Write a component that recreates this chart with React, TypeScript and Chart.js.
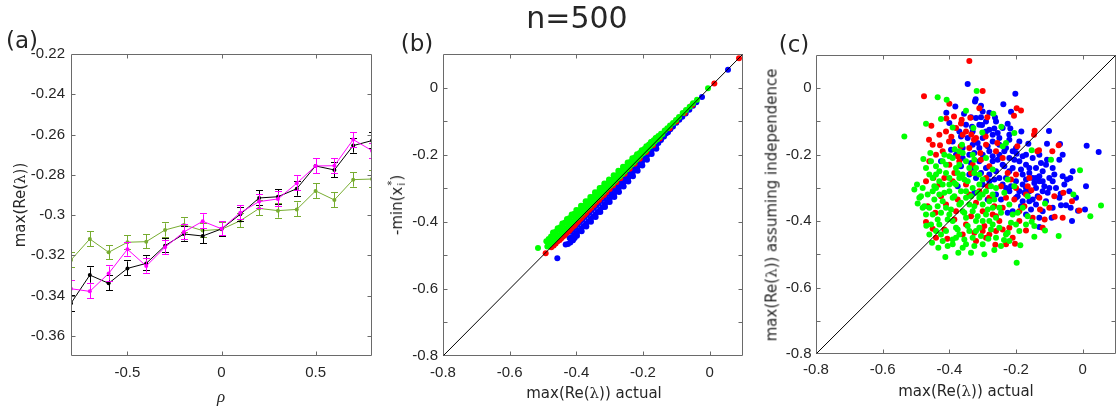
import React, { useEffect, useRef } from "react";
import { Chart, registerables } from "chart.js";

Chart.register(...registerables);

// ---------------- data ----------------
const RHO = [-0.8, -0.7, -0.6, -0.5, -0.4, -0.3, -0.2, -0.1, 0, 0.1, 0.2, 0.3, 0.4, 0.5, 0.6, 0.7, 0.8];
const A_BLACK = [-0.3438, -0.3298, -0.3339, -0.3265, -0.324, -0.3152, -0.3094, -0.3104, -0.3069, -0.2996, -0.2915, -0.2909, -0.2869, -0.2756, -0.2776, -0.2655, -0.263];
const A_BLACK_ERR = [0.0038, 0.0038, 0.0035, 0.0035, 0.0035, 0.0032, 0.0033, 0.0035, 0.0033, 0.0033, 0.0035, 0.0035, 0.0035, 0.0035, 0.0035, 0.0035, 0.0038];
const A_MAGENTA = [-0.3366, -0.3379, -0.329, -0.317, -0.3253, -0.316, -0.3084, -0.3031, -0.3068, -0.2988, -0.2933, -0.292, -0.2842, -0.2756, -0.2755, -0.2625, -0.268];
const A_MAGENTA_ERR = [0.0038, 0.0035, 0.0035, 0.0032, 0.0033, 0.0033, 0.0033, 0.0035, 0.0033, 0.0033, 0.0033, 0.0033, 0.0035, 0.0035, 0.0035, 0.0035, 0.0035];
const A_GREEN = [-0.3223, -0.3119, -0.3185, -0.3135, -0.3132, -0.3074, -0.3049, -0.3077, -0.3071, -0.3028, -0.2967, -0.2978, -0.2972, -0.288, -0.2925, -0.2824, -0.2821];
const A_GREEN_ERR = [0.0035, 0.0035, 0.0033, 0.0033, 0.0033, 0.0033, 0.0033, 0.0033, 0.0033, 0.0033, 0.0035, 0.0035, 0.0035, 0.0035, 0.0035, 0.0035, 0.0038];

const A_X_TICKS = [-0.5, 0, 0.5];
const A_Y_TICKS = [-0.36, -0.34, -0.32, -0.3, -0.28, -0.26, -0.24, -0.22];
const BC_X_TICKS = [-0.8, -0.6, -0.4, -0.2, 0];
const BC_Y_TICKS = [-0.8, -0.7, -0.6, -0.5, -0.4, -0.3, -0.2, -0.1, 0];
const BC_Y_LABELS = [-0.8, -0.6, -0.4, -0.2, 0];
const DIAG = [-0.8, 0.1];

const B_GREEN: number[][] = [
  [-0.515, -0.478],
  [-0.49, -0.458], [-0.487, -0.474], [-0.483, -0.451], [-0.48, -0.467], [-0.476, -0.444], [-0.473, -0.46],
  [-0.469, -0.437], [-0.466, -0.454], [-0.462, -0.43], [-0.459, -0.447], [-0.455, -0.423], [-0.452, -0.44],
  [-0.448, -0.416], [-0.445, -0.433], [-0.441, -0.409], [-0.438, -0.426], [-0.434, -0.402], [-0.431, -0.419],
  [-0.427, -0.395], [-0.424, -0.412], [-0.42, -0.389], [-0.417, -0.405], [-0.413, -0.382], [-0.41, -0.399],
  [-0.406, -0.376], [-0.403, -0.392], [-0.399, -0.372], [-0.396, -0.387], [-0.392, -0.366], [-0.389, -0.38],
  [-0.385, -0.359], [-0.382, -0.373], [-0.378, -0.352], [-0.375, -0.366], [-0.371, -0.346], [-0.368, -0.359],
  [-0.364, -0.339], [-0.361, -0.352], [-0.357, -0.333], [-0.354, -0.345], [-0.35, -0.326], [-0.347, -0.338],
  [-0.343, -0.319], [-0.34, -0.331], [-0.336, -0.312], [-0.333, -0.325], [-0.329, -0.305], [-0.326, -0.318],
  [-0.322, -0.298], [-0.319, -0.311], [-0.315, -0.292], [-0.312, -0.304], [-0.308, -0.286], [-0.305, -0.297],
  [-0.301, -0.281], [-0.298, -0.291], [-0.294, -0.275], [-0.291, -0.285], [-0.287, -0.268], [-0.284, -0.278],
  [-0.28, -0.262], [-0.277, -0.271], [-0.273, -0.255], [-0.27, -0.265], [-0.266, -0.249], [-0.263, -0.258],
  [-0.259, -0.242], [-0.256, -0.251], [-0.252, -0.235], [-0.249, -0.244], [-0.245, -0.229], [-0.242, -0.237],
  [-0.238, -0.222], [-0.235, -0.23], [-0.231, -0.215], [-0.228, -0.223], [-0.224, -0.208], [-0.221, -0.216],
  [-0.217, -0.202], [-0.214, -0.209], [-0.21, -0.195], [-0.207, -0.202], [-0.203, -0.189], [-0.2, -0.196],
  [-0.196, -0.183], [-0.193, -0.189], [-0.189, -0.177], [-0.186, -0.182], [-0.182, -0.17], [-0.179, -0.175],
  [-0.175, -0.163], [-0.172, -0.168], [-0.168, -0.157], [-0.165, -0.161], [-0.161, -0.151], [-0.158, -0.155],
  [-0.154, -0.144], [-0.15, -0.147], [-0.146, -0.138], [-0.142, -0.139],
  [-0.135, -0.128], [-0.127, -0.121], [-0.119, -0.113], [-0.11, -0.106], [-0.101, -0.097], [-0.092, -0.088],
  [-0.081, -0.076], [-0.071, -0.067], [-0.06, -0.057], [-0.05, -0.047], [-0.038, -0.036], [-0.005, -0.002],
  [-0.47, -0.432], [-0.456, -0.419], [-0.442, -0.405], [-0.428, -0.392], [-0.414, -0.378], [-0.4, -0.365],
  [-0.386, -0.352], [-0.372, -0.339], [-0.358, -0.326], [-0.344, -0.312], [-0.33, -0.299], [-0.316, -0.286],
  [-0.302, -0.274], [-0.288, -0.261], [-0.274, -0.248], [-0.26, -0.236], [-0.246, -0.223], [-0.232, -0.211],
  [-0.218, -0.199], [-0.204, -0.187], [-0.19, -0.175], [-0.176, -0.162], [-0.162, -0.15],
];

const B_BLUE: number[][] = [
  [-0.457, -0.509],
  [-0.432, -0.468], [-0.425, -0.466], [-0.418, -0.462], [-0.41, -0.455], [-0.405, -0.448], [-0.415, -0.452],
  [-0.42, -0.448], [-0.417, -0.43], [-0.413, -0.446], [-0.41, -0.424], [-0.406, -0.44], [-0.403, -0.416],
  [-0.399, -0.434], [-0.396, -0.408], [-0.392, -0.427], [-0.389, -0.401], [-0.385, -0.42], [-0.382, -0.393],
  [-0.378, -0.413], [-0.375, -0.386], [-0.371, -0.406], [-0.368, -0.379], [-0.364, -0.399], [-0.361, -0.372],
  [-0.357, -0.392], [-0.354, -0.365], [-0.35, -0.385], [-0.347, -0.358], [-0.343, -0.378], [-0.34, -0.351],
  [-0.336, -0.371], [-0.333, -0.344], [-0.329, -0.364], [-0.326, -0.337], [-0.322, -0.357], [-0.319, -0.33],
  [-0.315, -0.349], [-0.312, -0.323], [-0.308, -0.341], [-0.305, -0.316], [-0.301, -0.333], [-0.298, -0.308],
  [-0.294, -0.325], [-0.291, -0.3], [-0.287, -0.317], [-0.284, -0.293], [-0.28, -0.309], [-0.277, -0.285],
  [-0.273, -0.301], [-0.27, -0.278], [-0.266, -0.293], [-0.263, -0.27], [-0.259, -0.285], [-0.256, -0.263],
  [-0.252, -0.278], [-0.249, -0.256], [-0.245, -0.27], [-0.242, -0.248], [-0.238, -0.262], [-0.235, -0.241],
  [-0.231, -0.254], [-0.228, -0.234], [-0.224, -0.246], [-0.221, -0.226], [-0.217, -0.238], [-0.214, -0.219],
  [-0.21, -0.23], [-0.207, -0.212], [-0.203, -0.222], [-0.2, -0.205], [-0.196, -0.213], [-0.193, -0.198],
  [-0.189, -0.205], [-0.186, -0.191], [-0.182, -0.197], [-0.179, -0.184], [-0.175, -0.189], [-0.172, -0.177],
  [-0.168, -0.181], [-0.165, -0.17], [-0.161, -0.173], [-0.158, -0.162], [-0.154, -0.165], [-0.15, -0.155],
  [-0.146, -0.156], [-0.142, -0.147], [-0.137, -0.146], [-0.131, -0.137], [-0.125, -0.133], [-0.118, -0.124],
  [-0.11, -0.116], [-0.1, -0.105], [-0.091, -0.096], [-0.082, -0.087], [-0.072, -0.077], [-0.061, -0.066],
  [-0.05, -0.054], [-0.04, -0.044], [-0.023, -0.028], [0.055, 0.053],
  [-0.412, -0.455], [-0.398, -0.442], [-0.384, -0.428], [-0.37, -0.414], [-0.356, -0.4], [-0.342, -0.386],
  [-0.328, -0.371], [-0.314, -0.356], [-0.3, -0.341], [-0.286, -0.326], [-0.272, -0.311], [-0.258, -0.295],
  [-0.244, -0.28], [-0.23, -0.264], [-0.216, -0.248], [-0.202, -0.232], [-0.188, -0.215], [-0.174, -0.198],
  [-0.16, -0.182],
];

const B_RED: number[][] = [
  [-0.492, -0.494], [-0.475, -0.476], [-0.468, -0.471], [-0.462, -0.465], [-0.456, -0.458], [-0.45, -0.454],
  [-0.445, -0.449], [-0.44, -0.444], [-0.435, -0.44], [-0.43, -0.434], [-0.425, -0.43], [-0.42, -0.425],
  [-0.415, -0.419], [-0.41, -0.414], [-0.405, -0.41], [-0.4, -0.404], [-0.395, -0.399], [-0.39, -0.393],
  [-0.385, -0.389], [-0.38, -0.383], [-0.375, -0.378], [-0.37, -0.373], [-0.362, -0.365], [-0.355, -0.358],
  [-0.347, -0.35], [-0.34, -0.342], [-0.332, -0.335], [-0.325, -0.327], [-0.317, -0.32], [-0.31, -0.312],
  [-0.3, -0.302], [-0.29, -0.292], [-0.28, -0.282], [-0.268, -0.27], [-0.255, -0.257], [-0.24, -0.242],
  [-0.225, -0.227], [-0.21, -0.212], [-0.19, -0.192], [-0.17, -0.172], [-0.15, -0.152], [-0.12, -0.121],
  [-0.1, -0.101], [-0.075, -0.076], [-0.052, -0.052], [0.014, 0.012], [0.088, 0.087],
];

const C_RED: number[][] = [
  [-0.34, 0.082], [-0.476, -0.024], [-0.4, -0.047], [-0.3, -0.008], [-0.198, -0.06], [-0.185, -0.067],
  [-0.454, -0.113], [-0.409, -0.091], [-0.386, -0.085], [-0.363, -0.095], [-0.286, -0.087], [-0.206, -0.083],
  [-0.144, -0.128], [-0.146, -0.14], [-0.461, -0.155], [-0.428, -0.172], [-0.401, -0.16], [-0.366, -0.175],
  [-0.326, -0.155], [-0.291, -0.145], [-0.256, -0.165], [-0.196, -0.175], [-0.131, -0.187], [-0.091, -0.19],
  [-0.448, -0.27], [-0.47, -0.28], [-0.154, -0.307], [-0.085, -0.325], [-0.058, -0.315], [-0.032, -0.34],
  [-0.01, -0.368], [-0.128, -0.365], [-0.114, -0.395], [-0.084, -0.387], [-0.47, -0.403], [-0.45, -0.423],
  [-0.406, -0.453], [-0.262, -0.471], [-0.203, -0.468], [-0.17, -0.428], [-0.465, -0.355], [-0.442, -0.375],
  [-0.415, -0.27], [-0.375, -0.335], [-0.335, -0.385], [-0.325, -0.435], [-0.295, -0.415], [-0.265, -0.355],
  [-0.245, -0.295], [-0.225, -0.255], [-0.335, -0.255], [-0.375, -0.205], [-0.305, -0.215], [-0.28, -0.235],
  [-0.165, -0.295], [-0.175, -0.355], [-0.205, -0.335], [-0.19, -0.4], [-0.24, -0.425], [-0.415, -0.425],
  [-0.385, -0.395], [-0.32, -0.345], [-0.35, -0.29], [-0.385, -0.255], [-0.285, -0.295], [-0.26, -0.385],
  [-0.215, -0.275], [-0.425, -0.325], [-0.307, -0.195], [-0.36, -0.14], [-0.136, -0.19], [-0.072, -0.172],
  [-0.337, -0.089], [-0.365, -0.106], [-0.334, -0.139], [-0.394, -0.146],
  [-0.3, -0.43], [-0.28, -0.44], [-0.32, -0.46], [-0.25, -0.4], [-0.22, -0.42], [-0.27, -0.38],
  [-0.35, -0.41], [-0.38, -0.37], [-0.41, -0.35], [-0.43, -0.29], [-0.4, -0.23], [-0.37, -0.22],
  [-0.33, -0.23], [-0.29, -0.27], [-0.31, -0.31], [-0.23, -0.33], [-0.19, -0.37], [-0.36, -0.44],
  [-0.42, -0.19], [-0.44, -0.2], [-0.34, -0.18], [-0.28, -0.33], [-0.24, -0.36], [-0.21, -0.45],
  [-0.38, -0.12], [-0.35, -0.13], [-0.32, -0.15], [-0.29, -0.17], [-0.26, -0.19], [-0.41, -0.13],
  [-0.31, -0.06], [-0.24, -0.21], [-0.2, -0.26], [-0.17, -0.32], [-0.15, -0.39], [-0.12, -0.42],
  [-0.44, -0.45], [-0.29, -0.45], [-0.23, -0.47],
  [-0.46, -0.22], [-0.45, -0.17], [-0.43, -0.14], [-0.39, -0.28], [-0.34, -0.32], [-0.3, -0.37],
  [-0.26, -0.43], [-0.2, -0.3], [-0.16, -0.27], [-0.13, -0.33], [-0.1, -0.36], [-0.06, -0.39],
];

const C_BLUE: number[][] = [
  [-0.345, 0.013], [-0.202, -0.017], [-0.321, -0.033], [-0.323, -0.04], [-0.305, -0.053], [-0.238, -0.048],
  [-0.382, -0.055], [-0.215, -0.071], [-0.356, -0.077], [-0.335, -0.087], [-0.305, -0.087], [-0.263, -0.088],
  [-0.28, -0.125], [-0.265, -0.121], [-0.225, -0.107], [-0.163, -0.167], [-0.107, -0.167], [-0.068, -0.168],
  [0.012, -0.173], [0.048, -0.192], [-0.06, -0.2], [-0.07, -0.215], [-0.125, -0.225], [-0.107, -0.215],
  [-0.085, -0.26], [-0.06, -0.265], [-0.047, -0.275], [-0.03, -0.25], [-0.037, -0.27], [-0.055, -0.29],
  [0.01, -0.295], [0.007, -0.365], [-0.032, -0.4], [-0.093, -0.39], [-0.13, -0.418], [-0.065, -0.352],
  [-0.05, -0.352], [-0.15, -0.335], [-0.145, -0.285], [-0.17, -0.275], [-0.185, -0.245], [-0.205, -0.215],
  [-0.235, -0.19], [-0.255, -0.135], [-0.29, -0.13], [-0.315, -0.165], [-0.345, -0.15], [-0.365, -0.145],
  [-0.425, -0.22], [-0.395, -0.185], [-0.325, -0.195], [-0.285, -0.175], [-0.27, -0.205], [-0.235, -0.235],
  [-0.215, -0.295], [-0.195, -0.325], [-0.175, -0.315], [-0.16, -0.255], [-0.13, -0.265], [-0.115, -0.295],
  [-0.155, -0.365], [-0.21, -0.37], [-0.245, -0.335], [-0.305, -0.255], [-0.335, -0.225], [-0.365, -0.235],
  [-0.265, -0.275], [-0.225, -0.375], [-0.185, -0.355], [-0.135, -0.325], [-0.105, -0.315], [-0.09, -0.28],
  [-0.285, -0.335], [-0.325, -0.315], [-0.375, -0.295], [-0.255, -0.215], [-0.22, -0.155], [-0.198, -0.197],
  [-0.18, -0.205], [-0.4, -0.105], [-0.101, -0.129], [-0.184, -0.13], [-0.217, -0.121], [-0.066, -0.318],
  [-0.036, -0.36], [-0.014, -0.369], [-0.409, -0.074], [-0.28, -0.074], [-0.332, -0.116], [-0.302, -0.111],
  [-0.33, -0.17], [-0.31, -0.18], [-0.3, -0.2], [-0.28, -0.19], [-0.27, -0.22], [-0.25, -0.2],
  [-0.24, -0.23], [-0.22, -0.21], [-0.21, -0.24], [-0.19, -0.22], [-0.18, -0.26], [-0.16, -0.24],
  [-0.15, -0.27], [-0.14, -0.3], [-0.13, -0.28], [-0.12, -0.31], [-0.29, -0.24], [-0.26, -0.25],
  [-0.23, -0.27], [-0.2, -0.28], [-0.19, -0.31], [-0.17, -0.3], [-0.16, -0.34], [-0.2, -0.33],
  [-0.24, -0.29], [-0.22, -0.31], [-0.31, -0.22], [-0.34, -0.2], [-0.36, -0.18], [-0.3, -0.15],
  [-0.27, -0.16], [-0.25, -0.17], [-0.23, -0.18], [-0.2, -0.18], [-0.17, -0.2], [-0.15, -0.21],
  [-0.12, -0.25], [-0.1, -0.27], [-0.14, -0.35], [-0.11, -0.34], [-0.33, -0.13], [-0.31, -0.11],
  [-0.29, -0.1], [-0.26, -0.1], [-0.32, -0.27], [-0.28, -0.28], [-0.18, -0.34],
  [-0.39, -0.16], [-0.37, -0.13], [-0.35, -0.11], [-0.32, -0.09], [-0.3, -0.07], [-0.27, -0.14],
  [-0.25, -0.15], [-0.24, -0.12], [-0.22, -0.14], [-0.21, -0.19], [-0.19, -0.16], [-0.17, -0.23],
  [-0.14, -0.24], [-0.13, -0.2], [-0.11, -0.23], [-0.09, -0.24], [-0.08, -0.3], [-0.12, -0.37],
  [-0.17, -0.38], [-0.26, -0.32], [-0.23, -0.3], [-0.3, -0.29], [-0.34, -0.26],
  [-0.38, -0.2], [-0.36, -0.21], [-0.33, -0.24], [-0.28, -0.26], [-0.25, -0.27], [-0.22, -0.25],
  [-0.18, -0.29], [-0.16, -0.31], [-0.14, -0.27], [-0.12, -0.28], [-0.1, -0.3], [-0.07, -0.33],
  [-0.04, -0.31], [-0.02, -0.33], [-0.13, -0.39], [-0.09, -0.36],
];

const C_GREEN: number[][] = [
  [-0.535, -0.145], [-0.47, -0.107], [-0.435, -0.027], [-0.408, -0.035], [-0.425, -0.093], [-0.39, -0.118],
  [-0.35, -0.068], [-0.318, -0.008], [-0.268, -0.077], [-0.328, -0.12], [-0.205, -0.135], [-0.23, -0.165],
  [-0.24, -0.175], [-0.153, -0.187], [-0.095, -0.215], [-0.008, -0.247], [-0.028, -0.32], [0.055, -0.353],
  [0.023, -0.385], [-0.072, -0.445], [-0.113, -0.428], [-0.145, -0.447], [-0.187, -0.473], [-0.198, -0.525],
  [-0.236, -0.457], [-0.283, -0.453], [-0.295, -0.5], [-0.335, -0.495], [-0.373, -0.495], [-0.412, -0.508],
  [-0.433, -0.48], [-0.452, -0.465], [-0.495, -0.347], [-0.505, -0.305], [-0.497, -0.29], [-0.478, -0.213],
  [-0.457, -0.195], [-0.485, -0.325], [-0.475, -0.355], [-0.469, -0.414], [-0.46, -0.26], [-0.44, -0.235],
  [-0.415, -0.2], [-0.4, -0.205], [-0.37, -0.23], [-0.385, -0.285], [-0.355, -0.275], [-0.325, -0.255],
  [-0.3, -0.275], [-0.335, -0.325], [-0.365, -0.345], [-0.395, -0.365], [-0.425, -0.375], [-0.445, -0.335],
  [-0.415, -0.315], [-0.405, -0.395], [-0.375, -0.425], [-0.345, -0.415], [-0.315, -0.385], [-0.285, -0.365],
  [-0.265, -0.335], [-0.245, -0.375], [-0.215, -0.405], [-0.275, -0.425], [-0.305, -0.445], [-0.355, -0.455],
  [-0.39, -0.455], [-0.425, -0.44], [-0.435, -0.395], [-0.325, -0.355], [-0.355, -0.375], [-0.385, -0.325],
  [-0.315, -0.315], [-0.275, -0.295], [-0.235, -0.315], [-0.205, -0.295], [-0.195, -0.375], [-0.165, -0.385],
  [-0.145, -0.415], [-0.225, -0.435], [-0.245, -0.475], [-0.325, -0.475], [-0.405, -0.475], [-0.41, -0.255],
  [-0.36, -0.195], [-0.325, -0.215], [-0.27, -0.245], [-0.375, -0.255], [-0.225, -0.275], [-0.165, -0.325],
  [-0.445, -0.295], [-0.43, -0.28], [-0.465, -0.32], [-0.435, -0.355], [-0.244, -0.116], [-0.265, -0.487],
  [-0.113, -0.347], [-0.153, -0.402], [-0.301, -0.133], [-0.362, -0.17], [-0.384, -0.184],
  [-0.44, -0.3], [-0.43, -0.32], [-0.42, -0.34], [-0.41, -0.36], [-0.4, -0.38], [-0.39, -0.4],
  [-0.38, -0.42], [-0.37, -0.44], [-0.42, -0.29], [-0.4, -0.31], [-0.39, -0.33], [-0.37, -0.35],
  [-0.36, -0.37], [-0.35, -0.39], [-0.34, -0.43], [-0.33, -0.45], [-0.4, -0.27], [-0.38, -0.29],
  [-0.365, -0.31], [-0.35, -0.33], [-0.34, -0.35], [-0.33, -0.37], [-0.32, -0.4], [-0.31, -0.42],
  [-0.38, -0.24], [-0.36, -0.26], [-0.345, -0.28], [-0.33, -0.3], [-0.31, -0.33], [-0.3, -0.35],
  [-0.29, -0.38], [-0.28, -0.4], [-0.35, -0.22], [-0.32, -0.24], [-0.31, -0.26], [-0.29, -0.31],
  [-0.27, -0.36], [-0.26, -0.39], [-0.25, -0.42], [-0.23, -0.44], [-0.45, -0.38], [-0.46, -0.36],
  [-0.455, -0.41], [-0.44, -0.43], [-0.42, -0.46], [-0.39, -0.47], [-0.36, -0.48], [-0.3, -0.47],
  [-0.43, -0.25], [-0.45, -0.27], [-0.48, -0.3], [-0.49, -0.33], [-0.42, -0.22], [-0.39, -0.21],
  [-0.31, -0.29], [-0.27, -0.32], [-0.22, -0.35], [-0.21, -0.38], [-0.18, -0.36], [-0.19, -0.43],
  [-0.26, -0.3], [-0.35, -0.31],
  [-0.47, -0.24], [-0.455, -0.22], [-0.44, -0.26], [-0.47, -0.38], [-0.48, -0.36], [-0.46, -0.44],
  [-0.43, -0.41], [-0.41, -0.43], [-0.38, -0.45], [-0.35, -0.47], [-0.32, -0.43], [-0.3, -0.4],
  [-0.27, -0.41], [-0.26, -0.45], [-0.22, -0.46], [-0.2, -0.41], [-0.17, -0.41], [-0.4, -0.29],
  [-0.37, -0.27], [-0.34, -0.24], [-0.3, -0.32], [-0.28, -0.34], [-0.25, -0.36], [-0.45, -0.31],
  [-0.41, -0.23], [-0.37, -0.19], [-0.33, -0.2], [-0.29, -0.21],
];

// ---------------- styling / layout ----------------
const PAGE_W = 1120;
const PAGE_H = 411;
const TICK_FONT = "15px 'Liberation Sans', Arial, sans-serif";
const LABEL_FONT = "'DejaVu Sans', sans-serif";
const TEXT_COLOR = "#262626";
const AXIS_COLOR = "#6a6a6a";
const Y_AXIS_W = 60;
const X_AXIS_H = 40;

type Area = { left: number; right: number; top: number; bottom: number };
type Slice = { x: number; w: number };
const AREA_A: Area = { left: 71, right: 372, top: 54, bottom: 356 };
const AREA_B: Area = { left: 443, right: 743, top: 54, bottom: 356 };
const AREA_C: Area = { left: 816, right: 1116, top: 55, bottom: 354 };
const SLICE_A: Slice = { x: 0, w: 378 };
const SLICE_B: Slice = { x: 372, w: 376 };
const SLICE_C: Slice = { x: 746, w: 374 };

const fmt = (v: number) => String(Number(v.toFixed(2)));
const hasLabel = (list: number[] | undefined, v: number) => !list || list.some((l) => Math.abs(l - v) < 1e-9);

// MATLAB-style box, inward ticks on all four sides, and tick labels from the scales
const boxPlugin = {
  id: "matlabBox",
  afterDatasetsDraw(chart: any, _args: any, opts: any) {
    const { ctx, chartArea: a, scales } = chart;
    const xs = scales.x;
    const ys = scales.y;
    const tl = 4;
    const L = Math.round(a.left) + 0.5;
    const R = Math.round(a.right) - 0.5;
    const T = Math.round(a.top) + 0.5;
    const B = Math.round(a.bottom) - 0.5;
    ctx.save();
    ctx.strokeStyle = AXIS_COLOR;
    ctx.lineWidth = 1;
    ctx.beginPath();
    ctx.rect(L, T, R - L, B - T);
    for (const t of xs.ticks) {
      const px = Math.round(xs.getPixelForValue(t.value)) + 0.5;
      if (px < L + 1 || px > R - 1) continue;
      ctx.moveTo(px, B);
      ctx.lineTo(px, B - tl);
      ctx.moveTo(px, T);
      ctx.lineTo(px, T + tl);
    }
    for (const t of ys.ticks) {
      const py = Math.round(ys.getPixelForValue(t.value)) + 0.5;
      if (py < T + 1 || py > B - 1) continue;
      ctx.moveTo(L, py);
      ctx.lineTo(L + tl, py);
      ctx.moveTo(R, py);
      ctx.lineTo(R - tl, py);
    }
    ctx.stroke();

    ctx.fillStyle = TEXT_COLOR;
    ctx.font = TICK_FONT;
    ctx.textAlign = "right";
    ctx.textBaseline = "middle";
    for (const t of ys.ticks) {
      if (!hasLabel(opts.yLabels, t.value)) continue;
      ctx.fillText(fmt(t.value), a.left - opts.yGap, ys.getPixelForValue(t.value));
    }
    ctx.textAlign = "center";
    for (const t of xs.ticks) {
      ctx.fillText(fmt(t.value), xs.getPixelForValue(t.value), a.bottom + opts.xGap);
    }
    ctx.restore();
  },
};

const errorBarPlugin = {
  id: "errorBars",
  afterDatasetDraw(chart: any, args: any) {
    const ds = chart.data.datasets[args.index];
    if (!ds.errors) return;
    const { ctx, chartArea: a, scales } = chart;
    const xs = scales.x;
    const ys = scales.y;
    ctx.save();
    ctx.beginPath();
    ctx.rect(a.left, a.top, a.right - a.left, a.bottom - a.top);
    ctx.clip();
    ctx.strokeStyle = ds.borderColor;
    ctx.lineWidth = 1;
    ctx.beginPath();
    ds.data.forEach((p: any, i: number) => {
      const e = ds.errors[i];
      const px = Math.round(xs.getPixelForValue(p.x)) + 0.5;
      const y1 = ys.getPixelForValue(p.y - e);
      const y2 = ys.getPixelForValue(p.y + e);
      ctx.moveTo(px, y1);
      ctx.lineTo(px, y2);
      ctx.moveTo(px - 3.5, Math.round(y1) + 0.5);
      ctx.lineTo(px + 3.5, Math.round(y1) + 0.5);
      ctx.moveTo(px - 3.5, Math.round(y2) - 0.5);
      ctx.lineTo(px + 3.5, Math.round(y2) - 0.5);
    });
    ctx.stroke();
    ctx.restore();
  },
};

function axis(min: number, max: number, ticks: number[], isX: boolean) {
  return {
    type: "linear",
    min,
    max,
    afterFit: (s: any) => {
      if (isX) s.height = X_AXIS_H;
      else s.width = Y_AXIS_W;
    },
    afterBuildTicks: (s: any) => {
      s.ticks = ticks.map((v) => ({ value: v }));
    },
    grid: { display: false },
    border: { display: false },
    ticks: { display: false, autoSkip: false },
  };
}

function padding(a: Area, s: Slice) {
  return {
    left: a.left - s.x - Y_AXIS_W,
    right: s.x + s.w - a.right,
    top: a.top,
    bottom: PAGE_H - a.bottom - X_AXIS_H,
  };
}

const toPts = (arr: number[][]) => arr.map(([x, y]) => ({ x, y }));

function configA(): any {
  const series = (vals: number[], errs: number[], color: string, order: number) => ({
    data: RHO.map((x, i) => ({ x, y: vals[i] })),
    errors: errs,
    borderColor: color,
    backgroundColor: color,
    borderWidth: 1,
    pointRadius: 2,
    pointBorderWidth: 0,
    pointBackgroundColor: color,
    order,
  });
  return {
    type: "line",
    data: {
      datasets: [
        series(A_GREEN, A_GREEN_ERR, "#77AC30", 2),
        series(A_BLACK, A_BLACK_ERR, "#000000", 1),
        series(A_MAGENTA, A_MAGENTA_ERR, "#FF00FF", 0),
      ],
    },
    options: {
      animation: false,
      responsive: false,
      events: [],
      layout: { padding: padding(AREA_A, SLICE_A) },
      plugins: {
        legend: { display: false },
        tooltip: { enabled: false },
        matlabBox: { yGap: 6, xGap: 16.5 },
      },
      scales: {
        x: axis(-0.8, 0.8, A_X_TICKS, true),
        y: axis(-0.37, -0.22, A_Y_TICKS, false),
      },
    },
    plugins: [errorBarPlugin, boxPlugin],
  };
}

function configScatter(area: Area, slice: Slice, green: number[][], red: number[][], blue: number[][], yGap: number, xGap: number): any {
  const pts = (arr: number[][], color: string, order: number) => ({
    type: "scatter",
    data: toPts(arr),
    backgroundColor: color,
    borderColor: color,
    pointRadius: 3,
    pointBorderWidth: 0,
    showLine: false,
    order,
  });
  return {
    type: "scatter",
    data: {
      datasets: [
        {
          type: "line",
          data: DIAG.map((v) => ({ x: v, y: v })),
          borderColor: "#000000",
          borderWidth: 1,
          pointRadius: 0,
          showLine: true,
          order: 0,
        },
        pts(green, "#00FF00", 1),
        pts(red, "#FF0000", 2),
        pts(blue, "#0000FF", 3),
      ],
    },
    options: {
      animation: false,
      responsive: false,
      events: [],
      layout: { padding: padding(area, slice) },
      plugins: {
        legend: { display: false },
        tooltip: { enabled: false },
        matlabBox: { yLabels: BC_Y_LABELS, yGap, xGap },
      },
      scales: {
        x: axis(-0.8, 0.1, BC_X_TICKS, true),
        y: axis(-0.8, 0.1, BC_Y_TICKS, false),
      },
    },
    plugins: [boxPlugin],
  };
}

function Txt(props: {
  x: number;
  y: number;
  size: number;
  rot?: boolean;
  family?: string;
  italic?: boolean;
  children: React.ReactNode;
}) {
  const { x, y, size, rot, family, italic, children } = props;
  return (
    <div
      style={{
        position: "absolute",
        left: x,
        top: y,
        transform: `translate(-50%, -50%)${rot ? " rotate(-90deg)" : ""}`,
        fontFamily: family || LABEL_FONT,
        fontSize: size,
        fontStyle: italic ? "italic" : "normal",
        lineHeight: 1,
        color: TEXT_COLOR,
        whiteSpace: "nowrap",
      }}
    >
      {children}
    </div>
  );
}

const Lam = () => <span style={{ fontFamily: "'DejaVu Serif', serif" }}>λ</span>;

export default function App() {
  const refA = useRef<HTMLCanvasElement>(null);
  const refB = useRef<HTMLCanvasElement>(null);
  const refC = useRef<HTMLCanvasElement>(null);

  useEffect(() => {
    const charts = [
      new Chart(refA.current as HTMLCanvasElement, configA()),
      new Chart(refB.current as HTMLCanvasElement, configScatter(AREA_B, SLICE_B, B_GREEN, B_RED, B_BLUE, 5, 16.5)),
      new Chart(refC.current as HTMLCanvasElement, configScatter(AREA_C, SLICE_C, C_GREEN, C_RED, C_BLUE, 4.5, 16)),
    ];
    return () => charts.forEach((c) => c.destroy());
  }, []);

  const cstyle = (s: Slice): React.CSSProperties => ({
    position: "absolute",
    left: s.x,
    top: 0,
    width: s.w,
    height: PAGE_H,
  });

  return (
    <div style={{ position: "absolute", left: 0, top: 0, width: PAGE_W, height: PAGE_H, background: "#ffffff", overflow: "hidden" }}>
      <canvas ref={refA} width={SLICE_A.w} height={PAGE_H} style={cstyle(SLICE_A)} />
      <canvas ref={refB} width={SLICE_B.w} height={PAGE_H} style={cstyle(SLICE_B)} />
      <canvas ref={refC} width={SLICE_C.w} height={PAGE_H} style={cstyle(SLICE_C)} />

      <Txt x={577} y={18} size={30}>n=500</Txt>
      <Txt x={22} y={40} size={23}>(a)</Txt>
      <Txt x={417} y={43} size={23}>(b)</Txt>
      <Txt x={794} y={44} size={23}>(c)</Txt>

      <Txt x={20} y={205} size={15} rot>
        max(Re(<Lam />))
      </Txt>
      <Txt x={221} y={396} size={17} family="'Liberation Serif', serif" italic>
        ρ
      </Txt>

      <Txt x={397} y={205} size={15} rot>
        -min(x
        <span style={{ display: "inline-flex", flexDirection: "column", fontSize: 10, lineHeight: 1, verticalAlign: "middle", marginLeft: 1 }}>
          <span>*</span>
          <span>i</span>
        </span>
        )
      </Txt>
      <Txt x={594} y={393} size={15}>
        max(Re(<Lam />)) actual
      </Txt>

      <Txt x={772} y={205} size={15} rot>
        max(Re(<Lam />)) assuming independence
      </Txt>
      <Txt x={966} y={391} size={15}>
        max(Re(<Lam />)) actual
      </Txt>
    </div>
  );
}
